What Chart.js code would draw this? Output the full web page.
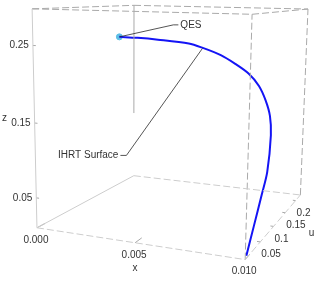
<!DOCTYPE html>
<html>
<head>
<meta charset="utf-8">
<script src="https://cdn.jsdelivr.net/npm/chart.js@4.4.1/dist/chart.umd.min.js"></script>
<style>
  html, body { margin: 0; padding: 0; background: #fff; }
  #wrap { width: 317px; height: 281px; }
</style>
</head>
<body>
<div id="wrap"><canvas id="plot" width="317" height="281"></canvas></div>
<script>
// IHRT surface curve, sampled as (x, u, z)
const curveX = [0, 0.0012, 0.0025, 0.0045, 0.00535, 0.0066, 0.0075, 0.0083, 0.0090, 0.00955, 0.00985, 0.00995, 0.0100, 0.0100, 0.0100, 0.0100];
const curveU = [0.1845, 0.1800, 0.1755, 0.1620, 0.1530, 0.1395, 0.1294, 0.1204, 0.1069, 0.0900, 0.0833, 0.0810, 0.0675, 0.0495, 0.0248, 0.0034];
const curveZ = [0.2475, 0.2475, 0.2463, 0.2438, 0.2399, 0.2317, 0.2218, 0.2108, 0.1970, 0.1815, 0.1634, 0.1389, 0.0947, 0.0704, 0.0391, 0.0122];

// plot box
const xRange = [0, 0.01];
const uRange = [0, 0.225];
const zRange = [0.009, 0.296];

const xTicks = [0, 0.005, 0.01];
const xTickLabels = ['0.000', '0.005', '0.010'];
const uTicks = [0.05, 0.1, 0.15, 0.2];
const uTickLabels = ['0.05', '0.1', '0.15', '0.2'];
const zTicks = [0.05, 0.15, 0.25];
const zTickLabels = ['0.05', '0.15', '0.25'];

const qesIndex = 0;      // QES sits at the start of the curve
const surfaceIndex = 4;  // where the "IHRT Surface" callout touches

// view: rows map normalised (a, b, c, 1) to screen x, y and perspective w
const camX = [188.04, 138.04, -6.4, 33];
const camY = [4.30, -3.38, -227.2, 231];
const camW = [-0.1087, 0.286, -0.05, 1];

const FONT = '10px "Liberation Sans", Arial, sans-serif';
const TEXT = '#333';

function projN(a, b, c) {
    const q = [a, b, c, 1];
    const dot = r => r[0] * q[0] + r[1] * q[1] + r[2] * q[2] + r[3] * q[3];
    const w = dot(camW);
    return { x: dot(camX) / w, y: dot(camY) / w };
}

function project(x, u, z) {
    return projN(
        (x - xRange[0]) / (xRange[1] - xRange[0]),
        (u - uRange[0]) / (uRange[1] - uRange[0]),
        (z - zRange[0]) / (zRange[1] - zRange[0])
    );
}

function edge(p, q, color, dash) {
    return {
        type: 'line',
        data: [projN(p[0], p[1], p[2]), projN(q[0], q[1], q[2])],
        borderColor: color,
        borderWidth: 1,
        borderDash: dash,
        pointRadius: 0,
        tension: 0,
        clip: false
    };
}

const LIGHT = '#cdcdcd';
const MID = '#a9a9a9';
const DASH = [7, 3];

const datasets = [
    // bottom face
    edge([0, 0, 0], [1, 0, 0], LIGHT, DASH),
    edge([0, 0, 0], [0, 1, 0], LIGHT, []),
    edge([0, 1, 0], [1, 1, 0], LIGHT, DASH),
    edge([1, 0, 0], [1, 1, 0], LIGHT, DASH),
    // verticals
    edge([0, 0, 0], [0, 0, 1], LIGHT, []),
    edge([1, 0, 0], [1, 0, 1], MID, DASH),
    edge([1, 1, 0], [1, 1, 1], MID, DASH),
    edge([0, 1, 0.377], [0, 1, 1], MID, []),
    // top face
    edge([0, 0, 1], [1, 0, 1], MID, DASH),
    edge([0, 1, 1], [1, 1, 1], MID, DASH),
    edge([0, 0, 1], [0, 1, 1], MID, DASH),
    edge([1, 0, 1], [1, 1, 1], MID, DASH)
];

// small tick marks on the box edges
xTicks.forEach(v => {
    datasets.push({
        type: 'line',
        data: [project(v, uRange[0], zRange[0]), project(v, uRange[0] + 0.015, zRange[0])],
        borderColor: MID, borderWidth: 1, pointRadius: 0, clip: false
    });
});
zTicks.forEach(v => {
    datasets.push({
        type: 'line',
        data: [project(xRange[0], uRange[0], v), project(xRange[0] + 0.00015, uRange[0], v)],
        borderColor: MID, borderWidth: 1, pointRadius: 0, clip: false
    });
});
uTicks.forEach(v => {
    datasets.push({
        type: 'line',
        data: [project(xRange[1], v, zRange[0]), project(xRange[1] - 0.00015, v, zRange[0])],
        borderColor: MID, borderWidth: 1, pointRadius: 0, clip: false
    });
});

// the curve
datasets.push({
    type: 'line',
    data: curveX.map((x, i) => project(x, curveU[i], curveZ[i])),
    borderColor: '#1414f5',
    borderWidth: 2,
    pointRadius: 0,
    tension: 0.3,
    clip: false
});

// QES point
datasets.push({
    type: 'scatter',
    data: [project(curveX[qesIndex], curveU[qesIndex], curveZ[qesIndex])],
    backgroundColor: '#5dbfe6',
    borderColor: '#5dbfe6',
    pointRadius: 3,
    clip: false
});

const labelPlugin = {
    id: 'labels3d',
    afterDatasetsDraw(chart) {
        const ctx = chart.ctx;
        const sx = chart.scales.x, sy = chart.scales.y;
        const px = p => ({ x: sx.getPixelForValue(p.x), y: sy.getPixelForValue(p.y) });

        ctx.save();
        ctx.font = FONT;
        ctx.fillStyle = TEXT;
        ctx.textBaseline = 'middle';

        // z ticks
        ctx.textAlign = 'right';
        zTicks.forEach((v, i) => {
            const p = px(project(xRange[0], uRange[0], v));
            ctx.fillText(zTickLabels[i], p.x - 4, p.y);
        });
        // x ticks
        ctx.textAlign = 'center';
        xTicks.forEach((v, i) => {
            const p = px(project(v, uRange[0], zRange[0]));
            ctx.fillText(xTickLabels[i], p.x - 1, p.y + 12);
        });
        // u ticks
        ctx.textAlign = 'left';
        uTicks.forEach((v, i) => {
            const p = px(project(xRange[1], v, zRange[0]));
            ctx.fillText(uTickLabels[i], p.x + 1, p.y + 12.5);
        });

        // axis titles
        ctx.textAlign = 'center';
        let p = px(project((xRange[0] + xRange[1]) / 2, uRange[0], zRange[0]));
        ctx.fillText('x', p.x, p.y + 25);
        p = px(project(xRange[1], (uRange[0] + uRange[1]) / 2, zRange[0]));
        ctx.fillText('u', p.x + 35, p.y + 10);
        p = px(project(xRange[0], uRange[0], (zRange[0] + zRange[1]) / 2));
        ctx.fillText('z', p.x - 30, p.y - 3);

        // callouts
        ctx.strokeStyle = '#2a2a2a';
        ctx.lineWidth = 0.8;
        const q = px(project(curveX[qesIndex], curveU[qesIndex], curveZ[qesIndex]));
        ctx.beginPath();
        ctx.moveTo(q.x, q.y);
        ctx.lineTo(q.x + 54, q.y - 12);
        ctx.lineTo(q.x + 59, q.y - 12);
        ctx.stroke();
        ctx.textAlign = 'left';
        ctx.fillText('QES', q.x + 61, q.y - 12);

        const s = px(project(curveX[surfaceIndex], curveU[surfaceIndex], curveZ[surfaceIndex]));
        ctx.beginPath();
        ctx.moveTo(s.x + 1, s.y + 1);
        ctx.lineTo(s.x - 75, s.y + 108);
        ctx.lineTo(s.x - 81, s.y + 108);
        ctx.stroke();
        ctx.textAlign = 'right';
        ctx.fillText('IHRT Surface', s.x - 83, s.y + 108);

        ctx.restore();
    }
};

new Chart(document.getElementById('plot'), {
    type: 'scatter',
    data: { datasets: datasets },
    options: {
        responsive: false,
        animation: false,
        layout: { padding: 0 },
        scales: {
            x: { type: 'linear', min: 0, max: 317, display: false },
            y: { type: 'linear', min: 0, max: 281, reverse: true, display: false }
        },
        plugins: {
            legend: { display: false },
            tooltip: { enabled: false }
        }
    },
    plugins: [labelPlugin]
});
</script>
</body>
</html>
